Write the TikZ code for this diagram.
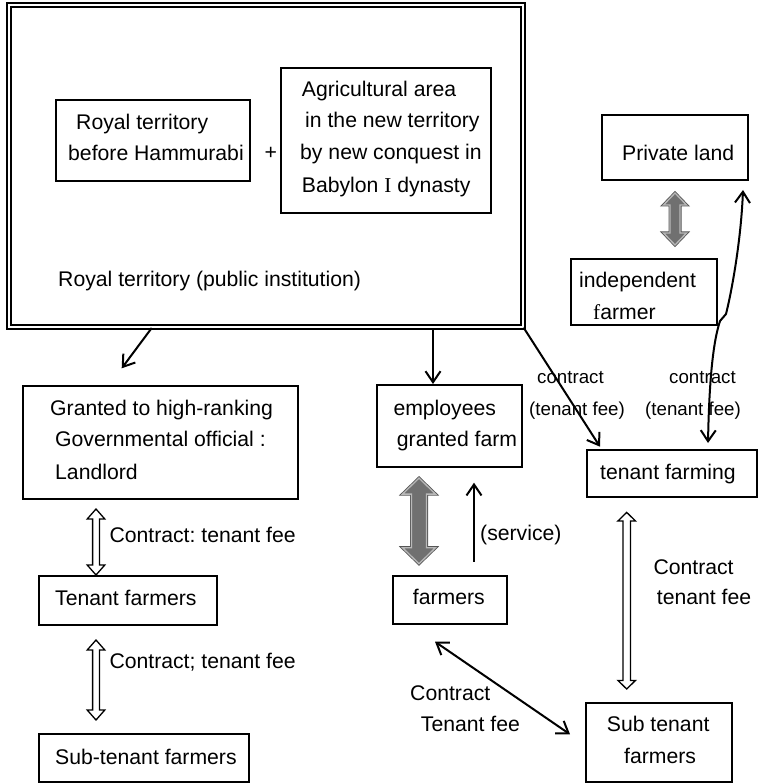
\documentclass[tikz,border=0pt]{standalone}
\usepackage{fontspec}
\setmainfont{Liberation Sans}
\newfontfamily\serifglyph{Liberation Serif}
\usetikzlibrary{arrows.meta,fit}
\frenchspacing

\newcommand\mainsize{\fontsize{21.2}{31}\selectfont}
\newcommand\labelsize{\fontsize{18.7}{26}\selectfont}

\definecolor{blockdark}{RGB}{85,85,85}
\definecolor{blocklight}{RGB}{185,185,185}
\definecolor{blockfill}{RGB}{112,112,112}

\tikzset{
  barb/.tip={Straight Barb[length=11pt,width=15pt]},
  box/.style={draw, line width=2.2pt, inner sep=0pt},
  outerbox/.style={draw, double, line width=1.1pt, double distance=2.9pt, inner sep=0pt},
  txt/.style={inner sep=0pt, anchor=base west, font=\mainsize},
  lbl/.style={inner sep=0pt, anchor=base west, font=\labelsize},
  link/.style={line width=2pt, -barb},
  twoway/.style={line width=2pt, barb-barb},
  hollowblock/.style={draw, line width=1.3pt, fill=white},
  % vertical block arrow with heads at both ends:
  % #1 half length, #2 shaft half width, #3 head half width, #4 head length
  pics/vblock/.style n args={4}{code={
    \path[pic actions] (0,-#1) -- (#3,-#1+#4) -- (#2,-#1+#4) -- (#2,#1-#4)
      -- (#3,#1-#4) -- (0,#1) -- (-#3,#1-#4) -- (-#2,#1-#4)
      -- (-#2,-#1+#4) -- (-#3,-#1+#4) -- cycle;
  }},
}

\begin{document}
\begin{tikzpicture}[x=1pt,y=-1pt]
\useasboundingbox (0,0) rectangle (762,783);

% ---------- royal territory and its parts ----------
\node[outerbox, fit={(9,5) (523,327)}] (royal) {};
\node[box, fit={(56,100) (250,181)}] (before) {};
\node[box, fit={(281,68) (491,213)}] (agri) {};

\node[txt] (beforeA) at (76,130) {Royal territory};
\node[txt] (beforeB) at (68,161) {before Hammurabi};
\node[txt] (plus) at (264.5,160) {+};
\node[txt] (agriA) at (301.7,97) {Agricultural area};
\node[txt] (agriB) at (305,128) {in the new territory};
\node[txt] (agriC) at (300,160) {by new conquest in};
\node[txt] (agriD) at (301.7,192.7) {Babylon {\serifglyph I} dynasty};
\node[txt] (royalname) at (58,287) {Royal territory (public institution)};

% ---------- private land ----------
\node[box, fit={(602,115) (748,180)}] (private) {};
\node[txt] (privateA) at (622,160.7) {Private land};
\node[box, fit={(571,259) (717,325)}] (indep) {};
\node[txt] (indepA) at (579,287.7) {independent};
\node[txt] (indepB) at (593,319) {{\serifglyph f}armer};

% ---------- second row ----------
\node[box, fit={(23.3,386) (297.7,499)}] (granted) {};
\node[txt] (grantedA) at (50,415) {Granted to high-ranking};
\node[txt] (grantedB) at (55,446.7) {Governmental official :};
\node[txt] (grantedC) at (55,479) {Landlord};

\node[box, fit={(377,385) (522,467)}] (employees) {};
\node[txt] (employeesA) at (393.3,415) {employees};
\node[txt] (employeesB) at (396.7,446.7) {granted farm};

\node[box, fit={(587,450) (757,497)}] (tfarming) {};
\node[txt] (tfarmingA) at (600,479) {tenant farming};

\node[lbl] (contractL) at (537,383) {contract};
\node[lbl] (feeL) at (529,415) {(tenant fee)};
\node[lbl] (contractR) at (669,383) {contract};
\node[lbl] (feeR) at (645,415) {(tenant fee)};

% ---------- third and fourth rows ----------
\node[box, fit={(39.3,576) (217.3,625)}] (tenants) {};
\node[txt] (tenantsA) at (55,605) {Tenant farmers};
\node[box, fit={(393,575.7) (507,624)}] (farmers) {};
\node[txt] (farmersA) at (412.7,604) {farmers};
\node[box, fit={(39.3,734.3) (249.3,781.7)}] (subleft) {};
\node[txt] (subleftA) at (55,764) {Sub-tenant farmers};
\node[box, fit={(586,703.3) (732,781.7)}] (subright) {};
\node[txt] (subrightA) at (606.7,731.7) {Sub tenant};
\node[txt] (subrightB) at (624,763.3) {farmers};

\node[txt] (c1) at (109.3,542.3) {Contract: tenant fee};
\node[txt] (c2) at (109.3,668.3) {Contract; tenant fee};
\node[txt] (service) at (480,540.7) {(service)};
\node[txt] (c3a) at (653.3,574) {Contract};
\node[txt] (c3b) at (656.7,604) {tenant fee};
\node[txt] (c4a) at (410,700) {Contract};
\node[txt] (c4b) at (420.7,731.7) {Tenant fee};

% ---------- line arrows ----------
\coordinate (r1) at (151.7,328);
\coordinate (g1) at (121.7,368.3);
\coordinate (r2) at (433,328);
\coordinate (e1) at (433,384);
\coordinate (t1) at (600,446.7);
\coordinate (t2) at (708,443);
\coordinate (p1) at (743,190);
\coordinate (s1) at (474,561.7);
\coordinate (s2) at (474,482.7);
\coordinate (f1) at (435,641.7);
\coordinate (u1) at (570,734.3);

\draw[link] (r1) -- (g1);
\draw[link] (r2) -- (e1);
\draw[link] (royal.south east) -- (t1);
\draw[twoway] (t2) .. controls (709,390) and (712,345) .. (720,321)
  -- (726,314) .. controls (732,290) and (741,240) .. (p1);
\draw[link] (s1) -- (s2);
\draw[twoway] (f1) -- (u1);

% ---------- block arrows ----------
\pic[hollowblock] (w1) at (96,542) {vblock={33}{3.4}{8.8}{10}};
\pic[hollowblock] (w2) at (96,680) {vblock={40}{3.4}{8.8}{10}};
\pic[hollowblock] (w3) at (626.7,600.7) {vblock={88.3}{3.8}{8.7}{8.5}};

\pic[draw=blockdark, line width=3pt, fill=blockfill] (g1a) at (675,219) {vblock={26}{5}{11.5}{12}};
\pic[draw=blocklight, line width=1.3pt, fill=blockfill] (g1b) at (675,219) {vblock={26}{5}{11.5}{12}};
\pic[draw=blockdark, line width=3pt, fill=blockfill] (g2a) at (419,520.9) {vblock={42.8}{7.5}{16.5}{16}};
\pic[draw=blocklight, line width=1.3pt, fill=blockfill] (g2b) at (419,520.9) {vblock={42.8}{7.5}{16.5}{16}};
\end{tikzpicture}
\end{document}
